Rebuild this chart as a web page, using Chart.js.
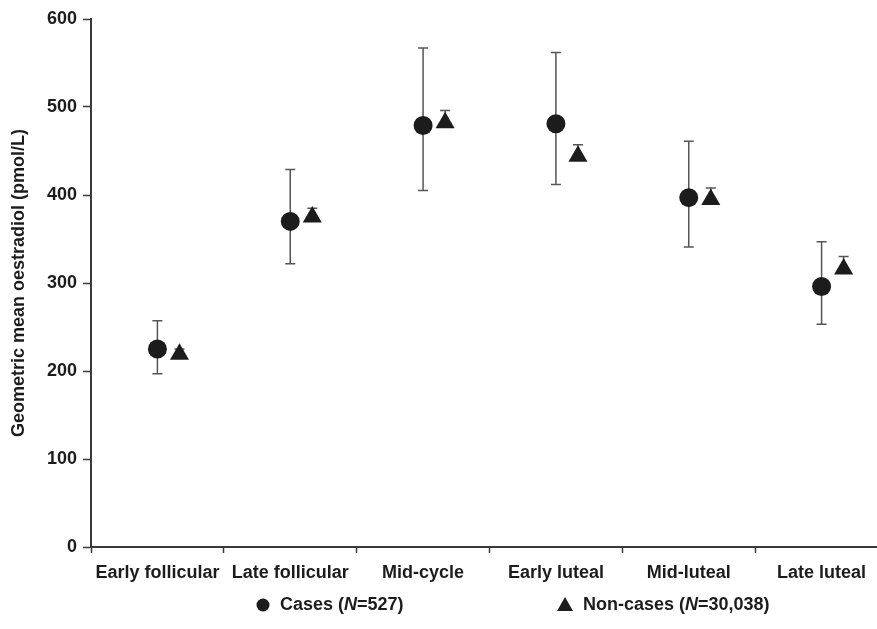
<!DOCTYPE html>
<html>
<head>
<meta charset="utf-8">
<script src="https://cdn.jsdelivr.net/npm/chart.js@4/dist/chart.umd.min.js"></script>
<style>
  html, body { margin:0; padding:0; background:#fff; overflow:hidden; }
  canvas { display:block; }
</style>
</head>
<body>
<canvas id="chart" width="899" height="629"></canvas>
<script>
// phases du cycle
const phases = ['Early follicular','Late follicular','Mid-cycle','Early luteal','Mid-luteal','Late luteal'];

// cas (cercles) + IC
const casesMean = [225, 370, 479, 481, 397, 296];
const casesLow  = [197, 322, 405, 412, 341, 253];
const casesHigh = [257, 429, 567, 562, 461, 347];

// non-cas (triangles) + IC
const nonMean = [219, 375, 482, 444, 395, 316];
const nonLow  = [215, 371, 478, 440, 391, 312];
const nonHigh = [225, 385, 496, 457, 408, 330];

const yTicks = [0, 100, 200, 300, 400, 500, 600];
const legendCases = ['Cases (', 'N', '=527)'];
const legendNon   = ['Non-cases (', 'N', '=30,038)'];

const SHIFT = 0.166; // décalage des triangles à droite du cercle
const FONT = '"Liberation Sans", Arial, sans-serif';
const INK = '#1c1c1c';
const AXIS = '#3a3a3a';

const ptsCases = casesMean.map((v, i) => ({ x: i, y: v, lo: casesLow[i], hi: casesHigh[i] }));
const ptsNon   = nonMean.map((v, i) => ({ x: i + SHIFT, y: v, lo: nonLow[i], hi: nonHigh[i] }));

// barres d'erreur sous les marqueurs
const errorBars = {
  id: 'errorBars',
  beforeDatasetsDraw(chart) {
    const { ctx, scales: { x, y } } = chart;
    ctx.save();
    ctx.strokeStyle = '#555';
    ctx.lineWidth = 1.5;
    chart.data.datasets.forEach(ds => {
      ds.data.forEach(p => {
        const px = x.getPixelForValue(p.x);
        const top = y.getPixelForValue(p.hi);
        const bot = y.getPixelForValue(p.lo);
        ctx.beginPath();
        ctx.moveTo(px, top); ctx.lineTo(px, bot);
        ctx.moveTo(px - 5, top); ctx.lineTo(px + 5, top);
        ctx.moveTo(px - 5, bot); ctx.lineTo(px + 5, bot);
        ctx.stroke();
      });
    });
    ctx.restore();
  }
};

// légende avec N en italique
const customLegend = {
  id: 'customLegend',
  afterDraw(chart) {
    const ctx = chart.ctx;
    const yy = 605;
    const drawParts = (parts, x0) => {
      let xx = x0;
      parts.forEach((t, k) => {
        ctx.font = (k === 1 ? 'italic bold ' : 'bold ') + '18px ' + FONT;
        ctx.fillText(t, xx, yy);
        xx += ctx.measureText(t).width;
      });
    };
    ctx.save();
    ctx.fillStyle = INK;
    ctx.textBaseline = 'middle';
    ctx.beginPath();
    ctx.arc(263, yy, 6.5, 0, Math.PI * 2);
    ctx.fill();
    drawParts(legendCases, 280);
    ctx.beginPath();
    ctx.moveTo(565, yy - 8); ctx.lineTo(573, yy + 6); ctx.lineTo(557, yy + 6);
    ctx.closePath();
    ctx.fill();
    drawParts(legendNon, 583);
    ctx.restore();
  }
};

new Chart(document.getElementById('chart'), {
  type: 'scatter',
  data: {
    datasets: [
      {
        label: 'Cases',
        data: ptsCases,
        pointStyle: 'circle',
        pointRadius: 9.5,
        pointHoverRadius: 9.5,
        backgroundColor: INK,
        borderColor: INK,
        borderWidth: 0
      },
      {
        label: 'Non-cases',
        data: ptsNon,
        pointStyle: 'triangle',
        pointRadius: 11,
        pointHoverRadius: 11,
        backgroundColor: INK,
        borderColor: INK,
        borderWidth: 0
      }
    ]
  },
  options: {
    responsive: false,
    animation: false,
    layout: { padding: { top: 19, right: 0, bottom: 44, left: 0 } },
    plugins: {
      legend: { display: false },
      tooltip: { enabled: false }
    },
    scales: {
      x: {
        type: 'linear',
        min: -0.5,
        max: 5.5,
        afterBuildTicks: s => {
          s.ticks = [];
          for (let i = 0; i <= phases.length * 2; i++) s.ticks.push({ value: -0.5 + i * 0.5 });
        },
        afterFit: s => { s.height = 38; },
        border: { color: AXIS, width: 2 },
        grid: {
          drawOnChartArea: false,
          tickLength: 6,
          tickWidth: 1.5,
          tickColor: c => (Math.abs(c.tick.value % 1) < 1e-6 ? 'rgba(0,0,0,0)' : AXIS)
        },
        ticks: {
          autoSkip: false,
          maxRotation: 0,
          padding: 9,
          color: INK,
          font: { family: FONT, size: 18, weight: 'bold' },
          callback: v => (Math.abs(v % 1) < 1e-6 ? phases[Math.round(v)] : '')
        }
      },
      y: {
        min: 0,
        max: 600,
        afterBuildTicks: s => { s.ticks = yTicks.map(v => ({ value: v })); },
        afterFit: s => { s.width = 91; },
        border: { color: AXIS, width: 2 },
        grid: { drawOnChartArea: false, tickLength: 8, tickWidth: 1.5, tickColor: AXIS },
        ticks: {
          padding: 6,
          color: INK,
          font: { family: FONT, size: 18, weight: 'bold' }
        },
        title: {
          display: true,
          text: 'Geometric mean oestradiol (pmol/L)',
          color: INK,
          padding: { top: 8, bottom: 0 },
          font: { family: FONT, size: 18, weight: 'bold' }
        }
      }
    }
  },
  plugins: [errorBars, customLegend]
});
</script>
</body>
</html>
